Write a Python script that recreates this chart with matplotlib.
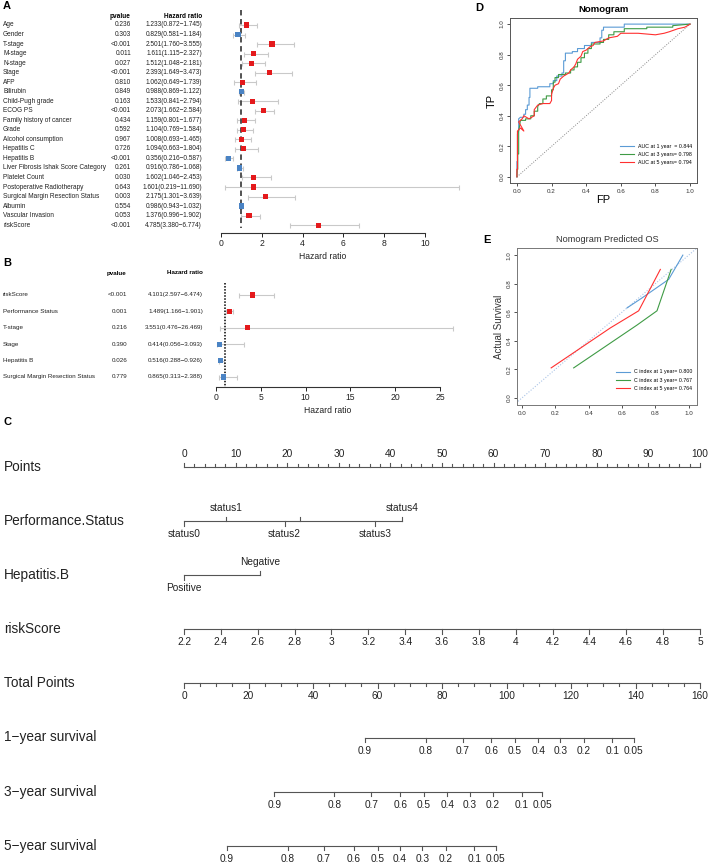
import matplotlib
matplotlib.use("Agg")
import matplotlib.pyplot as plt
from matplotlib.transforms import blended_transform_factory
import numpy as np

plt.rcParams["font.family"] = ["Liberation Sans", "DejaVu Sans"]
NARROW = ["Liberation Sans Narrow", "Liberation Sans", "DejaVu Sans"]

# ---- panel A: univariate Cox ----
A_VARS = ["Age", "Gender", "T-stage", "M-stage", "N-stage", "Stage", "AFP", "Bilirubin",
          "Child-Pugh grade", "ECOG PS", "Family history of cancer", "Grade",
          "Alcohol consumption", "Hepatitis C", "Hepatitis B",
          "Liver Fibrosis Ishak Score Category", "Platelet Count",
          "Postoperative Radiotherapy", "Surgical Margin Resection Status", "Albumin",
          "Vascular Invasion", "riskScore"]
A_P = ["0.236", "0.303", "<0.001", "0.011", "0.027", "<0.001", "0.810", "0.849", "0.163",
       "<0.001", "0.434", "0.592", "0.967", "0.726", "<0.001", "0.261", "0.030", "0.643",
       "0.003", "0.554", "0.053", "<0.001"]
A_HR = [1.233, 0.829, 2.501, 1.611, 1.512, 2.393, 1.062, 0.988, 1.533, 2.073, 1.159, 1.104,
        1.008, 1.094, 0.356, 0.916, 1.602, 1.601, 2.175, 0.986, 1.376, 4.785]
A_LO = [0.872, 0.581, 1.760, 1.115, 1.048, 1.649, 0.649, 0.869, 0.841, 1.662, 0.801, 0.769,
        0.693, 0.663, 0.216, 0.786, 1.046, 0.219, 1.301, 0.943, 0.996, 3.380]
A_HI = [1.745, 1.184, 3.555, 2.327, 2.181, 3.473, 1.739, 1.122, 2.794, 2.584, 1.677, 1.584,
        1.465, 1.804, 0.587, 1.068, 2.453, 11.690, 3.639, 1.032, 1.902, 6.774]

# ---- panel B: multivariate Cox ----
B_VARS = ["riskScore", "Performance Status", "T-stage", "Stage", "Hepatitis B",
          "Surgical Margin Resection Status"]
B_P = ["<0.001", "0.001", "0.216", "0.390", "0.026", "0.779"]
B_HR = [4.101, 1.489, 3.551, 0.414, 0.516, 0.865]
B_LO = [2.597, 1.166, 0.476, 0.056, 0.288, 0.313]
B_HI = [6.474, 1.901, 26.469, 3.093, 0.926, 2.388]

# ---- panel C: nomogram ----
PS_LEVELS = ["status0", "status1", "status2", "", "status3", "status4"]
PS_POINTS = [0, 8.1, 19.5, 22.4, 37.0, 42.3]
PS_ABOVE = [False, True, False, True, False, True]
HB_LEVELS = ["Positive", "Negative"]
HB_POINTS = [0, 14.7]
HB_ABOVE = [False, True]
RISK_TICKS = [2.2, 2.4, 2.6, 2.8, 3, 3.2, 3.4, 3.6, 3.8, 4, 4.2, 4.4, 4.6, 4.8, 5]
SURV_LABELS = ["0.9", "0.8", "0.7", "0.6", "0.5", "0.4", "0.3", "0.2", "0.1", "0.05"]
SURV1_TOTAL = [56.1, 74.9, 86.5, 95.3, 102.6, 109.9, 116.7, 124.0, 132.8, 139.4]
SURV3_TOTAL = [28.0, 46.6, 58.1, 67.1, 74.3, 81.6, 88.6, 95.7, 104.7, 111.1]
SURV5_TOTAL = [13.3, 32.1, 43.3, 52.6, 60.1, 66.9, 73.9, 81.2, 90.0, 96.7]

# ---- panel D: ROC ----
ROC1 = [(0, 0), (0, 0.1), (0.003, 0.1), (0.003, 0.28), (0.01, 0.3), (0.01, 0.38), (0.02, 0.39),
        (0.04, 0.39), (0.04, 0.41), (0.05, 0.41), (0.05, 0.44), (0.06, 0.44), (0.06, 0.47),
        (0.07, 0.47), (0.07, 0.52), (0.075, 0.52), (0.075, 0.58), (0.12, 0.58), (0.12, 0.59),
        (0.19, 0.59), (0.19, 0.61), (0.21, 0.61), (0.21, 0.63), (0.23, 0.63), (0.23, 0.66),
        (0.26, 0.66), (0.26, 0.68), (0.27, 0.68), (0.27, 0.76), (0.28, 0.76), (0.28, 0.81),
        (0.32, 0.81), (0.32, 0.82), (0.35, 0.82), (0.35, 0.84), (0.39, 0.84), (0.39, 0.86),
        (0.43, 0.86), (0.43, 0.88), (0.48, 0.88), (0.48, 0.91), (0.49, 0.91), (0.49, 0.96),
        (0.5, 0.96), (0.5, 0.98), (0.62, 0.98), (0.62, 1.0), (1.0, 1.0)]
ROC3 = [(0, 0), (0.002, 0.05), (0.005, 0.05), (0.005, 0.15), (0.01, 0.15), (0.01, 0.3),
        (0.015, 0.33), (0.02, 0.37), (0.05, 0.37), (0.05, 0.38), (0.08, 0.38), (0.08, 0.4),
        (0.1, 0.4), (0.1, 0.43), (0.12, 0.43), (0.12, 0.46), (0.13, 0.48), (0.15, 0.48),
        (0.15, 0.51), (0.17, 0.51), (0.17, 0.53), (0.2, 0.53), (0.2, 0.57), (0.21, 0.57),
        (0.21, 0.62), (0.22, 0.62), (0.22, 0.65), (0.24, 0.65), (0.24, 0.67), (0.28, 0.67),
        (0.28, 0.68), (0.31, 0.68), (0.31, 0.7), (0.33, 0.7), (0.33, 0.72), (0.35, 0.72),
        (0.35, 0.75), (0.37, 0.75), (0.37, 0.78), (0.39, 0.78), (0.39, 0.81), (0.41, 0.81),
        (0.41, 0.84), (0.43, 0.84), (0.43, 0.87), (0.48, 0.87), (0.48, 0.88), (0.5, 0.88),
        (0.5, 0.9), (0.53, 0.9), (0.53, 0.93), (0.56, 0.93), (0.56, 0.95), (0.62, 0.95),
        (0.62, 0.97), (0.75, 0.97), (0.75, 0.98), (0.9, 0.98), (0.9, 0.99), (1.0, 1.0)]
ROC5 = [(0, 0), (0, 0.05), (0.003, 0.05), (0.003, 0.3), (0.02, 0.32), (0.04, 0.3), (0.01, 0.36),
        (0.03, 0.38), (0.04, 0.4), (0.07, 0.38), (0.1, 0.4), (0.1, 0.44), (0.12, 0.47),
        (0.15, 0.48), (0.19, 0.48), (0.2, 0.5), (0.2, 0.54), (0.21, 0.58), (0.22, 0.6),
        (0.24, 0.61), (0.25, 0.64), (0.27, 0.66), (0.3, 0.68), (0.31, 0.7), (0.33, 0.72),
        (0.34, 0.74), (0.35, 0.77), (0.37, 0.79), (0.38, 0.82), (0.4, 0.83), (0.42, 0.85),
        (0.44, 0.86), (0.45, 0.88), (0.5, 0.89), (0.53, 0.91), (0.58, 0.92), (0.6, 0.94),
        (0.7, 0.94), (0.8, 0.93), (0.85, 0.94), (0.88, 0.95), (0.93, 0.97), (0.97, 0.98),
        (1.0, 1.0)]
ROC_LABELS = ["AUC at 1 year  = 0.844", "AUC at 3 years= 0.798", "AUC at 5 years= 0.794"]

# ---- panel E: calibration ----
CAL1_X = [0.63, 0.72, 0.88, 0.965]
CAL1_Y = [0.63, 0.70, 0.83, 1.0]
CAL3_X = [0.31, 0.69, 0.81, 0.895]
CAL3_Y = [0.21, 0.51, 0.61, 0.90]
CAL5_X = [0.175, 0.53, 0.70, 0.83]
CAL5_Y = [0.21, 0.49, 0.61, 0.90]
CAL_LABELS = ["C index at 1 year= 0.800", "C index at 3 year= 0.767", "C index at 5 year= 0.764"]

RED = "#e41a1c"
BLUE = "#4a83c4"
LBLUE = "#5b9bd5"
GREEN = "#3f9b45"
LRED = "#ff3030"

W, H = 709, 865
fig = plt.figure(figsize=(W / 100, H / 100), dpi=100)


def px_axes(x0, y0, x1, y1):
    return fig.add_axes([x0 / W, 1 - y1 / H, (x1 - x0) / W, (y1 - y0) / H])


def fig_text(x, y, s, **kw):
    fig.text(x / W, 1 - y / H, s, **kw)


def forest(ax, hr, lo, hi, names, pvals, xmax, step, ytop, ybot, dash, txt_y, label_fs):
    n = len(hr)
    hr, lo, hi = np.array(hr), np.array(lo), np.array(hi)
    rows = np.arange(n)
    ax.set_xlim(0, xmax)
    ax.set_ylim(ybot, ytop)
    eb = ax.errorbar(hr, rows, xerr=[hr - lo, hi - hr], fmt="none", ecolor="#c9c9c9",
                     elinewidth=0.8, capsize=1.8, capthick=0.8)
    for art in eb.lines[1] + eb.lines[2]:
        art.set_clip_on(False)
    cols = [RED if h > 1 else BLUE for h in hr]
    ax.scatter(hr, rows, marker="s", s=14, c=cols, zorder=3, clip_on=False, linewidths=0)
    if dash == "dashed":
        ax.plot([1, 1], [ytop - 0.85, n - 0.7], color="#444444", lw=1.3,
                ls=(0, (3, 2)), clip_on=False, zorder=2)
    else:
        ax.plot([1, 1], [ytop, n - 0.4], color="black", lw=1.1, ls=(0, (1, 1)),
                clip_on=False, zorder=2)
    for s in ["top", "left", "right"]:
        ax.spines[s].set_visible(False)
    ax.spines["bottom"].set_bounds(0, xmax)
    ax.spines["bottom"].set_linewidth(0.8)
    ax.spines["bottom"].set_color("#333333")
    ax.set_xticks(np.arange(0, xmax + 0.1, step))
    ax.tick_params(axis="x", labelsize=6.2, length=3, width=0.7, pad=1.5, colors="#222222")
    ax.set_yticks([])
    ax.set_xlabel("Hazard ratio", fontsize=6.2, labelpad=3, color="#222222")
    tr = blended_transform_factory(fig.transFigure, ax.transData)
    for i in range(n):
        ax.text(3 / W, i, names[i], transform=tr, fontsize=label_fs, va="center", ha="left",
                color="#222222")
        ax.text(txt_y[0] / W, i, pvals[i], transform=tr, fontsize=label_fs, va="center",
                ha="right", color="#222222")
        ax.text(txt_y[1] / W, i, "%.3f(%.3f\u2212%.3f)" % (hr[i], lo[i], hi[i]), transform=tr,
                fontsize=label_fs, va="center", ha="right", color="#222222")


# A
axA = px_axes(221, 18, 425, 233)
forest(axA, A_HR, A_LO, A_HI, A_VARS, A_P, 10, 2, -0.734, 21.826, "dashed", (131, 202), 4.7)
fig_text(3, 6, "A", fontsize=8, fontweight="bold", va="center")
fig_text(120, 16, "pvalue", fontsize=4.7, fontweight="bold", ha="center", va="center")
fig_text(202, 16, "Hazard ratio", fontsize=4.7, fontweight="bold", ha="right", va="center")

# B
axB = px_axes(216, 283, 440, 387)
forest(axB, B_HR, B_LO, B_HI, B_VARS, B_P, 25, 5, -0.73, 5.61, "dotted", (127, 203), 4.5)
fig_text(3, 263, "B", fontsize=8, fontweight="bold", va="center")
fig_text(117, 273, "pvalue", fontsize=4.5, fontweight="bold", ha="center", va="center")
fig_text(203, 273, "Hazard ratio", fontsize=4.5, fontweight="bold", ha="right", va="center")

# D
axD = px_axes(510, 18, 697, 183)
axD.plot([0, 1], [0, 1], color="#888888", lw=0.7, ls=(0, (1, 1.5)))
for roc, col, lab in zip([ROC1, ROC3, ROC5], [LBLUE, GREEN, LRED], ROC_LABELS):
    xs, ys = zip(*roc)
    axD.plot(xs, ys, color=col, lw=0.8, label=lab)
axD.set_xlim(-0.04, 1.04)
axD.set_ylim(-0.04, 1.04)
axD.set_xticks(np.arange(0, 1.01, 0.2))
axD.set_yticks(np.arange(0, 1.01, 0.2))
axD.set_xticklabels(["%.1f" % v for v in np.arange(0, 1.01, 0.2)])
axD.set_yticklabels(["%.1f" % v for v in np.arange(0, 1.01, 0.2)], rotation=90, va="center")
axD.tick_params(labelsize=4.5, length=2.5, width=0.6, pad=1.5, colors="#333333")
for s in axD.spines.values():
    s.set_linewidth(0.7)
    s.set_color("#555555")
axD.set_xlabel("FP", fontsize=8, labelpad=1)
axD.set_ylabel("TP", fontsize=8, labelpad=2)
axD.set_title("Nomogram", fontsize=6.8, fontweight="bold", pad=4)
axD.legend(loc="lower right", bbox_to_anchor=(1.0, 0.08), frameon=False, fontsize=3.8,
           handlelength=2.6, labelspacing=0.6, handletextpad=0.8)
fig_text(475, 8, "D", fontsize=8, fontweight="bold", va="center")

# E
axE = px_axes(517, 248, 697, 405)
axE.plot([-0.1, 1.1], [-0.1, 1.1], color="#aac4e6", lw=0.8, ls=(0, (1, 1.5)))
for cx, cy, col, lab in zip([CAL1_X, CAL3_X, CAL5_X], [CAL1_Y, CAL3_Y, CAL5_Y],
                            [LBLUE, GREEN, LRED], CAL_LABELS):
    axE.plot(cx, cy, color=col, lw=0.8, label=lab)
axE.set_xlim(-0.03, 1.05)
axE.set_ylim(-0.05, 1.05)
axE.set_xticks(np.arange(0, 1.01, 0.2))
axE.set_yticks(np.arange(0, 1.01, 0.2))
axE.set_xticklabels(["%.1f" % v for v in np.arange(0, 1.01, 0.2)])
axE.set_yticklabels(["%.1f" % v for v in np.arange(0, 1.01, 0.2)], rotation=90, va="center")
axE.tick_params(labelsize=4.5, length=2.5, width=0.6, pad=1.5, colors="#333333")
for s in axE.spines.values():
    s.set_linewidth(0.7)
    s.set_color("#777777")
axE.set_ylabel("Actual Survival", fontsize=7, labelpad=2, color="#333333")
axE.set_title("Nomogram Predicted OS", fontsize=6.6, pad=4, color="#333333")
axE.legend(loc="lower right", bbox_to_anchor=(1.0, 0.06), frameon=False, fontsize=3.8,
           handlelength=2.6, labelspacing=0.6, handletextpad=0.8)
fig_text(483, 240, "E", fontsize=8, fontweight="bold", va="center")

# C: nomogram scales, x in points (0-100), y in figure pixels
axC = px_axes(184, 420, 700, 865)
axC.set_xlim(0, 100)
axC.set_ylim(865, 420)
axC.axis("off")
fig_text(3, 422, "C", fontsize=8, fontweight="bold", va="center")

ROW_Y0, ROW_STEP = 467, 54.1
LINE_KW = dict(color="#555555", lw=0.8, clip_on=False)
TICK_FS = 7.3
trC = blended_transform_factory(fig.transFigure, axC.transData)
row_names = ["Points", "Performance.Status", "Hepatitis.B", "riskScore", "Total Points",
             "1\u2212year survival", "3\u2212year survival", "5\u2212year survival"]
rows_y = [ROW_Y0 + ROW_STEP * i for i in range(len(row_names))]
for name, y in zip(row_names, rows_y):
    axC.text(4 / W, y, name, transform=trC, fontsize=9.8, family=NARROW, va="center",
             ha="left", color="#222222")


def scale_row(y, xs, labels, up=False, minor=None, tick=4.5):
    axC.plot([min(xs), max(xs)], [y, y], **LINE_KW)
    d = -1 if up else 1
    for x, lab in zip(xs, labels):
        axC.plot([x, x], [y, y + d * tick], **LINE_KW)
        axC.text(x, y + d * 13, lab, fontsize=TICK_FS, family=NARROW, ha="center",
                 va="center", color="#222222", clip_on=False)
    if minor is not None:
        for x in minor:
            axC.plot([x, x], [y, y + d * tick * 0.6], **LINE_KW)


# Points
pts_major = list(range(0, 101, 10))
pts_minor = [v for v in range(0, 101, 2) if v % 10]
scale_row(rows_y[0], pts_major, [str(v) for v in pts_major], up=True, minor=pts_minor)

# categorical rows
for y, pts, levs, above in [(rows_y[1], PS_POINTS, PS_LEVELS, PS_ABOVE),
                            (rows_y[2], HB_POINTS, HB_LEVELS, HB_ABOVE)]:
    axC.plot([min(pts), max(pts)], [y, y], **LINE_KW)
    for x, lab, ab in zip(pts, levs, above):
        d = -1 if ab else 1
        axC.plot([x, x], [y, y + d * 4.5], **LINE_KW)
        if lab:
            axC.text(x, y + d * 13, lab, fontsize=TICK_FS, family=NARROW, ha="center",
                     va="center", color="#222222", clip_on=False)

# riskScore
risk_x = [(v - RISK_TICKS[0]) / (RISK_TICKS[-1] - RISK_TICKS[0]) * 100 for v in RISK_TICKS]
scale_row(rows_y[3], risk_x, ["%g" % v for v in RISK_TICKS])

# Total points
tot_major = list(range(0, 161, 20))
tot_minor = [v * 100 / 160 for v in range(0, 161, 5) if v % 20]
scale_row(rows_y[4], [v * 100 / 160 for v in tot_major], [str(v) for v in tot_major],
          minor=tot_minor)

# survival scales
for y, tot in zip(rows_y[5:], [SURV1_TOTAL, SURV3_TOTAL, SURV5_TOTAL]):
    scale_row(y, [v * 100 / 160 for v in tot], SURV_LABELS)

fig.savefig("out.png", dpi=100)
